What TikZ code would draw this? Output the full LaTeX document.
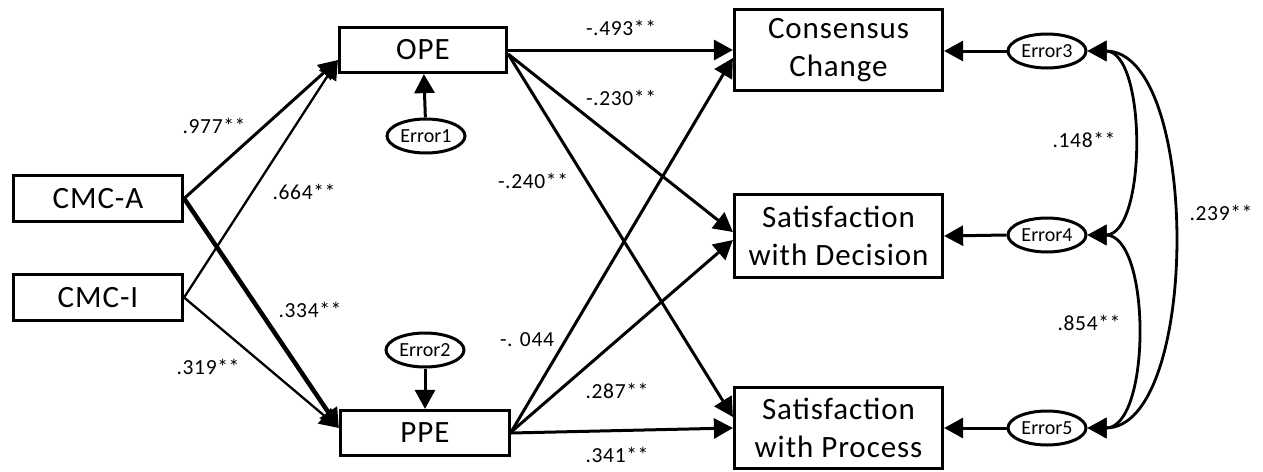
\documentclass[tikz,border=0pt]{standalone}
\usepackage{fontspec}
\setmainfont{Carlito}
\usetikzlibrary{arrows.meta,calc,shapes.geometric}
\newcommand\mybxfont{\fontsize{31}{38}\selectfont\addfontfeature{LetterSpace=3}}
\begin{document}
\begin{tikzpicture}[x=1pt,y=-1pt,
  box/.style={draw,line width=3.2pt,inner sep=0pt,align=center,font=\mybxfont},
  err/.style={draw,ellipse,line width=3pt,inner sep=0pt,minimum width=78pt,minimum height=34pt,font=\fontsize{20}{22}\selectfont},
  lab/.style={inner sep=0pt,font=\fontsize{21.5}{24}\selectfont\addfontfeature{LetterSpace=3}},
  arr/.style={-{Triangle[length=19pt,width=20pt]},line width=3pt},
  thinarr/.style={arr,line width=2.3pt},
  boldarr/.style={arr,line width=4.5pt},
  dbl/.style={{Triangle[length=19pt,width=20pt]}-{Triangle[length=19pt,width=20pt]},line width=2.8pt}
]
\useasboundingbox (0,0) rectangle (1263,471);
% boxes
\node[box,minimum width=169,minimum height=46] (CMCA) at (98,198.5) {CMC-A};
\node[box,minimum width=169,minimum height=46] (CMCI) at (98,297.5) {CMC-I};
\node[box,minimum width=167,minimum height=45] (OPE) at (423,50) {OPE};
\node[box,minimum width=169,minimum height=45] (PPE) at (425,433) {PPE};
\node[box,minimum width=208,minimum height=81] (CC) at (838.5,50) {Consensus\\Change};
\node[box,minimum width=208,minimum height=83] (SD) at (838.5,236) {Satisfaction\\with Decision};
\node[box,minimum width=208,minimum height=81] (SP) at (838.5,428) {Satisfaction\\with Process};
% errors
\node[err] (E1) at (426,136) {Error1};
\node[err] (E2) at (425,350) {Error2};
\node[err] (E3) at (1047,51) {Error3};
\node[err] (E4) at (1047,235) {Error4};
\node[err] (E5) at (1047,428) {Error5};
% anchor points
\coordinate (OPEin) at ($(OPE.west)+(0,10)$);
\coordinate (PPEin) at ($(PPE.west)+(0,-5)$);
\coordinate (OPEout) at ($(OPE.east)+(0,4)$);
\coordinate (PPEout) at ($(PPE.east)+(0,-1)$);
\coordinate (CCin) at ($(CC.west)+(0,8)$);
\coordinate (SDin1) at ($(SD.west)+(0,-4)$);
\coordinate (SDin2) at ($(SD.west)+(0,4)$);
\coordinate (SPin1) at ($(SP.west)+(0,-11)$);
% left paths
\draw[arr] (CMCA.east) -- (OPEin);
\draw[thinarr] (CMCI.east) -- (OPEin);
\draw[boldarr] (CMCA.east) -- (PPEin);
\draw[thinarr] (CMCI.east) -- (PPEin);
% error arrows
\draw[arr] (E1) -- (OPE);
\draw[arr] (E2) -- (PPE);
\draw[arr] (E3.west) -- (CC.east |- E3.west);
\draw[arr] (E4.west) -- (SD.east);
\draw[arr] (E5.west) -- (SP.east);
% right paths
\draw[arr] (OPE.east) -- (CC.west);
\draw[arr] (OPEout) -- (SDin1);
\draw[arr] (OPEout) -- (SPin1);
\draw[arr] (PPEout) -- (CCin);
\draw[arr] (PPEout) -- (SDin2);
\draw[arr] (PPE.east) -- (SP.west);
% covariances
\draw[dbl] (E3.east) to[out=0,in=0,looseness=0.83] (E4.east);
\draw[dbl] (E4.east) to[out=0,in=0,looseness=0.85] (E5.east);
\draw[dbl] (E3.east) to[out=0,in=0,looseness=0.77] (E5.east);
% labels
\node[lab] (l1) at (214,126) {.977**};
\node[lab] (l2) at (304,192) {.664**};
\node[lab] (l3) at (310,310) {.334**};
\node[lab] (l4) at (208,367) {.319**};
\node[lab] (l5) at (621,28) {-.493**};
\node[lab] (l6) at (621,98) {-.230**};
\node[lab] (l7) at (533,181) {-.240**};
\node[lab] (l8) at (527,340) {-. 044};
\node[lab] (l9) at (617,391) {.287**};
\node[lab] (l10) at (617,455) {.341**};
\node[lab] (l11) at (1084,140) {.148**};
\node[lab] (l12) at (1089,323) {.854**};
\node[lab] (l13) at (1221,213) {.239**};
\end{tikzpicture}
\end{document}
